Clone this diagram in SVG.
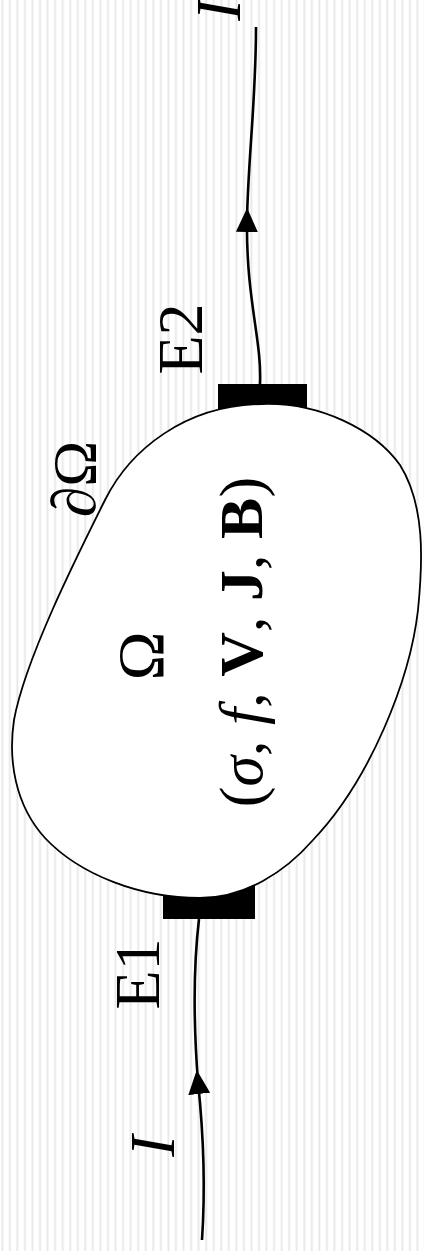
<svg xmlns="http://www.w3.org/2000/svg" width="424" height="1251" viewBox="0 0 424 1251">
<defs>
<pattern id="stripes" patternUnits="userSpaceOnUse" x="1" y="0" width="7.55" height="20">
<rect x="0" y="0" width="7.55" height="20" fill="#ffffff"/>
<rect x="0.4" y="0" width="1.8" height="20" fill="#e8e8e8"/>
</pattern>
<marker id="arr" viewBox="0 0 24 22" refX="12" refY="11" markerWidth="24" markerHeight="22" markerUnits="userSpaceOnUse" orient="auto">
<path d="M0,0 L24,11 L0,22 Z" fill="#000"/>
</marker>
<style>
.wire{fill:none;stroke:#000;stroke-width:2.6}
.lbl{font-family:"Liberation Serif","DejaVu Serif",serif;fill:#000;text-anchor:middle}
.it{font-style:italic}
.bf{font-weight:bold}
</style>
</defs>
<rect x="0" y="0" width="424" height="1251" fill="url(#stripes)"/>
<g id="electrode-E2">
<rect x="218" y="384" width="89" height="35" fill="#000"/>
<text class="lbl" font-size="64" transform="translate(202,339) rotate(-90)">E2</text>
</g>
<g id="electrode-E1">
<rect x="163" y="880" width="92" height="39" fill="#000"/>
<text class="lbl" font-size="64" transform="translate(159,974) rotate(-90)">E1</text>
</g>
<g id="domain">
<path d="M262,404 C320,402 375,430 400,465 C425,505 423,560 418,610 C410,680 370,780 313,840 C285,872 245,898 200,898 C140,898 80,875 45,838 C15,805 8,760 14,720 C25,660 75,560 105,500 C130,450 185,405 262,404 Z" fill="#fff" stroke="#000" stroke-width="1.8"/>
<text class="lbl" font-size="66" transform="translate(163,656) rotate(-90)">Ω</text>
<text class="lbl" font-size="62" transform="translate(262,642) rotate(-90)">(<tspan class="it">σ</tspan>, <tspan class="it">f</tspan>, <tspan class="bf">V</tspan>, <tspan class="bf">J</tspan>, <tspan class="bf">B</tspan>)</text>
<text class="lbl" font-size="62" transform="translate(95,479) rotate(-90)"><tspan class="it">∂</tspan>Ω</text>
</g>
<g id="connectors">
<path class="wire" d="M202,1240 C206,1180 202,1120 198,1082" marker-end="url(#arr)"/>
<path class="wire" d="M198,1082 C194,1030 193,970 199,919"/>
<path class="wire" d="M260,384 C262,340 246,300 247,220" marker-end="url(#arr)"/>
<path class="wire" d="M247,220 C248,160 256,100 256,27"/>
</g>
<g id="current-labels">
<text class="lbl it" font-size="64" transform="translate(174,1146) rotate(-90)">I</text>
<text class="lbl it" font-size="64" transform="translate(240,10) rotate(-90)">I</text>
</g>
</svg>
